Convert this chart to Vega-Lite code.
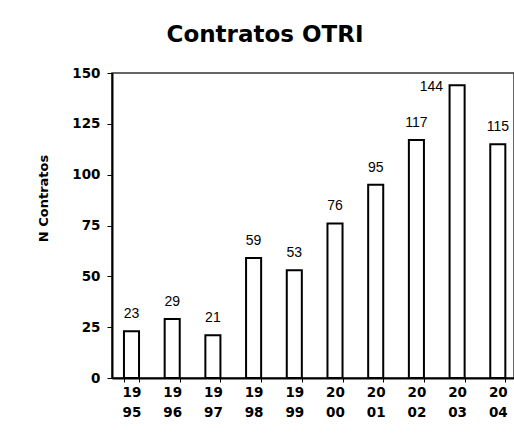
{
  "$schema": "https://vega.github.io/schema/vega-lite/v6.json",
  "autosize": {"type": "none"},
  "padding": {"left": 112, "top": 73, "right": 0, "bottom": 60},
  "width": 402,
  "height": 305,
  "background": "white",
  "title": {
    "text": "Contratos OTRI",
    "font": "DejaVu Sans",
    "fontWeight": "bold",
    "fontSize": 23,
    "color": "black",
    "anchor": "middle",
    "frame": "group",
    "dx": -48,
    "dy": 17,
    "offset": 18,
    "baseline": "alphabetic"
  },
  "config": {"view": {"stroke": "#333333", "strokeWidth": 1.5}},
  "data": {
    "values": [
      {"year": "1995", "n": 23},
      {"year": "1996", "n": 29},
      {"year": "1997", "n": 21},
      {"year": "1998", "n": 59},
      {"year": "1999", "n": 53},
      {"year": "2000", "n": 76},
      {"year": "2001", "n": 95},
      {"year": "2002", "n": 117},
      {"year": "2003", "n": 144},
      {"year": "2004", "n": 115}
    ]
  },
  "encoding": {
    "x": {
      "field": "year",
      "type": "ordinal",
      "sort": null,
      "scale": {"paddingInner": 0.63, "paddingOuter": 0.2535, "align": 0.58},
      "axis": {
        "title": null,
        "labelExpr": "[substring(datum.label,0,2), substring(datum.label,2,4)]",
        "labelAngle": 0,
        "labelFont": "DejaVu Sans",
        "labelFontWeight": "bold",
        "labelFontSize": 13.5,
        "labelColor": "black",
        "labelLineHeight": 20,
        "labelPadding": 3,
        "tickBand": "extent",
        "tickSize": 4,
        "tickColor": "black",
        "domainColor": "black",
        "domainWidth": 2
      }
    },
    "y": {
      "field": "n",
      "type": "quantitative",
      "scale": {"domain": [0, 150], "nice": false},
      "axis": {
        "title": "N Contratos",
        "titleFont": "DejaVu Sans",
        "titleFontWeight": "bold",
        "titleFontSize": 13,
        "titleColor": "black",
        "titleX": -69,
        "titleY": 125,
        "titleAlign": "center",
        "titleBaseline": "middle",
        "values": [0, 25, 50, 75, 100, 125, 150],
        "grid": false,
        "domainColor": "black",
        "domainWidth": 2,
        "tickColor": "black",
        "tickSize": 5,
        "labelFont": "DejaVu Sans",
        "labelFontWeight": "bold",
        "labelFontSize": 13.5,
        "labelColor": "black",
        "labelPadding": 7
      }
    }
  },
  "layer": [
    {"mark": {"type": "bar", "fill": "white", "stroke": "black", "strokeWidth": 2}},
    {
      "transform": [{"filter": "datum.n != 144"}],
      "mark": {"type": "text", "font": "Liberation Sans", "fontSize": 14, "dy": -13, "baseline": "alphabetic", "color": "black"},
      "encoding": {"text": {"field": "n", "type": "quantitative"}}
    },
    {
      "transform": [{"filter": "datum.n == 144"}],
      "mark": {"type": "text", "font": "Liberation Sans", "fontSize": 14, "align": "right", "dx": -14, "dy": 6, "baseline": "alphabetic", "color": "black"},
      "encoding": {"text": {"field": "n", "type": "quantitative"}}
    }
  ]
}
